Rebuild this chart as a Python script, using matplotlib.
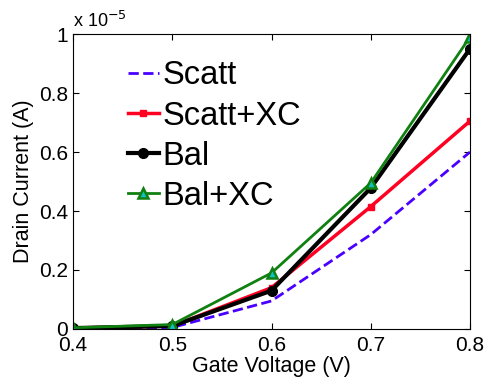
import matplotlib
matplotlib.use("Agg")
import matplotlib.pyplot as plt
from matplotlib.ticker import FuncFormatter

plt.rcParams['font.family'] = ['Liberation Sans', 'DejaVu Sans']

gate_voltage = [0.4, 0.5, 0.6, 0.7, 0.8]
scatt = [0.002e-5, 0.005e-5, 0.095e-5, 0.32e-5, 0.60e-5]
scatt_xc = [0.003e-5, 0.01e-5, 0.14e-5, 0.415e-5, 0.705e-5]
bal = [0.003e-5, 0.01e-5, 0.13e-5, 0.478e-5, 0.95e-5]
bal_xc = [0.004e-5, 0.015e-5, 0.19e-5, 0.495e-5, 0.99e-5]

fig = plt.figure(figsize=(4.87, 3.79), dpi=100)
ax = fig.add_axes([0.150, 0.132, 0.815, 0.778])

ax.plot(gate_voltage, scatt, '--', color='#4a00ff', lw=2, label='Scatt')
ax.plot(gate_voltage, scatt_xc, '-s', color='#ff0022', lw=2.5, ms=5, label='Scatt+XC')
ax.plot(gate_voltage, bal, '-o', color='black', lw=3, ms=7, label='Bal')
ax.plot(gate_voltage, bal_xc, '-^', color='#108010', lw=2, ms=7,
        mfc='#10c0c0', mec='#108010', mew=1.8, label='Bal+XC')

ax.set_xlim(0.4, 0.8)
ax.set_ylim(0, 1e-5)
ax.set_xticks([0.4, 0.5, 0.6, 0.7, 0.8])
ax.set_yticks([0, 0.2e-5, 0.4e-5, 0.6e-5, 0.8e-5, 1e-5])
ax.yaxis.set_major_formatter(FuncFormatter(lambda v, p: '%g' % round(v / 1e-5, 3)))
ax.text(0.0, 1.012, r'x 10$^{-5}$', transform=ax.transAxes, fontsize=13,
        ha='left', va='bottom')

ax.tick_params(direction='in', top=True, right=True, labelsize=15, length=4)
ax.tick_params(axis='x', pad=5)
ax.set_xlabel('Gate Voltage (V)', fontsize=15.5, labelpad=1)
ax.set_ylabel('Drain Current (A)', fontsize=15.5, labelpad=4)

ax.legend(loc='upper left', bbox_to_anchor=(0.105, 0.955), frameon=False,
          fontsize=23.5, handlelength=0.95, handletextpad=0.12, labelspacing=0.28,
          borderaxespad=0)

fig.savefig('out.png', dpi=100)
